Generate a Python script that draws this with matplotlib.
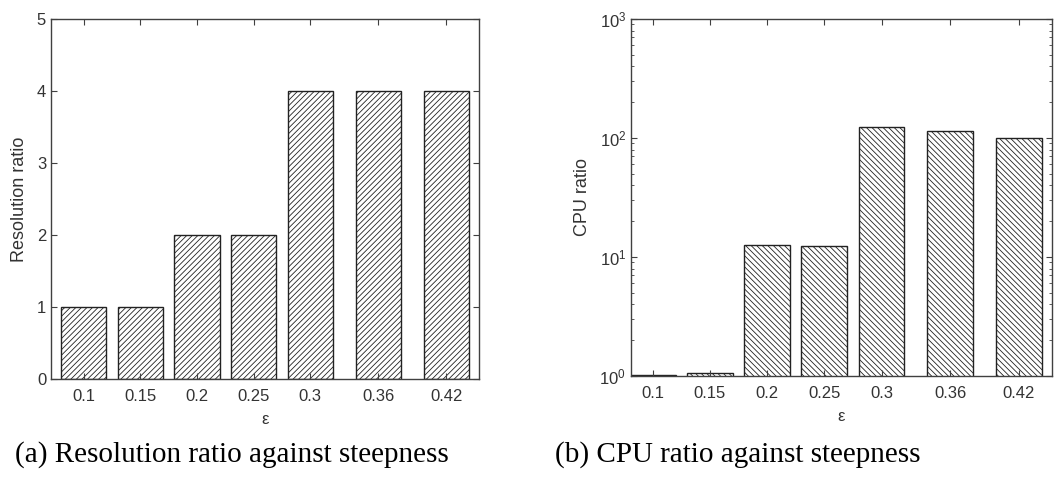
import matplotlib
matplotlib.use("Agg")
import matplotlib.pyplot as plt
from matplotlib.ticker import LogLocator, NullFormatter

eps = [0.1, 0.15, 0.2, 0.25, 0.3, 0.36, 0.42]
eps_labels = ["0.1", "0.15", "0.2", "0.25", "0.3", "0.36", "0.42"]
resolution_ratio = [1, 1, 2, 2, 4, 4, 4]
cpu_ratio = [1.01, 1.07, 12.6, 12.4, 123, 115, 100]

plt.rcParams['font.family'] = ['Liberation Sans', 'DejaVu Sans']
plt.rcParams['hatch.linewidth'] = 0.6
plt.rcParams['hatch.color'] = '#3a3a3a'
plt.rcParams['mathtext.fontset'] = 'custom'
plt.rcParams['mathtext.rm'] = 'Liberation Sans'
plt.rcParams['mathtext.it'] = 'Liberation Sans'

txt = '#333333'
spine = '#404040'

fig = plt.figure(figsize=(10.55, 4.79), dpi=100)
ax1 = fig.add_axes([51/1055, 1-379/479, 428/1055, 360/479])
ax2 = fig.add_axes([631/1055, 1-376/479, 421/1055, 357/479])

def style(ax):
    for s in ax.spines.values():
        s.set_color(spine)
        s.set_linewidth(1.0)
    ax.tick_params(which='both', direction='in', top=True, right=True,
                   colors=spine, labelcolor=txt, labelsize=12)
    ax.tick_params(which='major', length=4)
    ax.tick_params(which='minor', length=2)

ax1.bar(eps, resolution_ratio, width=0.04, color='white', edgecolor='#222222',
        linewidth=1.0, hatch='//////')
ax1.set_xlim(0.071, 0.449)
ax1.set_ylim(0, 5)
ax1.set_xticks(eps)
ax1.set_xticklabels(eps_labels)
ax1.set_yticks([0, 1, 2, 3, 4, 5])
ax1.set_ylabel('Resolution ratio', fontsize=13, color=txt, labelpad=6)
ax1.set_xlabel('ε', fontsize=12, color=txt, labelpad=6)
style(ax1)
ax1.tick_params(axis='x', pad=7)

ax2.bar(eps, cpu_ratio, width=0.04, color='white', edgecolor='#222222',
        linewidth=1.0, hatch='\\\\\\\\\\\\')
ax2.set_yscale('log')
ax2.set_xlim(0.081, 0.449)
ax2.set_ylim(1, 1000)
ax2.set_xticks(eps)
ax2.set_xticklabels(eps_labels)
ax2.yaxis.set_major_locator(LogLocator(base=10, numticks=10))
ax2.yaxis.set_minor_locator(LogLocator(base=10, subs=range(2, 10), numticks=20))
ax2.yaxis.set_minor_formatter(NullFormatter())
ax2.set_ylabel('CPU ratio', fontsize=13, color=txt, labelpad=6)
ax2.set_xlabel('ε', fontsize=12, color=txt, labelpad=6)
style(ax2)
ax2.tick_params(axis='x', pad=7)

fig.text(15/1055, 1-455/479, '(a) Resolution ratio against steepness',
         family=['Liberation Serif', 'DejaVu Serif'], fontsize=21, va='center', ha='left')
fig.text(555/1055, 1-455/479, '(b) CPU ratio against steepness',
         family=['Liberation Serif', 'DejaVu Serif'], fontsize=21, va='center', ha='left')

fig.savefig('out.png', dpi=100)
